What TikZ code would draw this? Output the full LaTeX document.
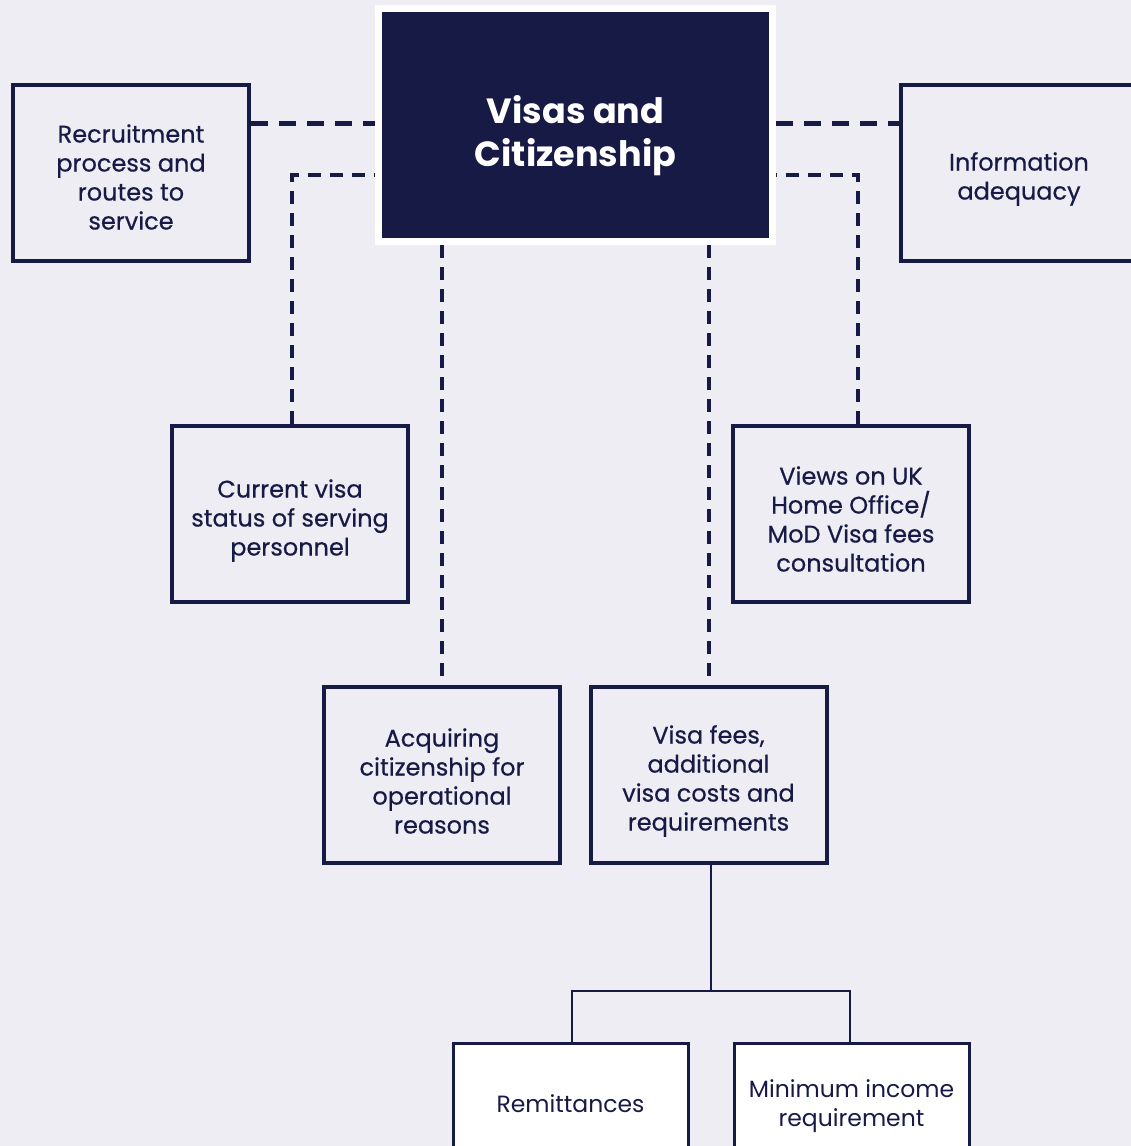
\documentclass[tikz,border=0pt]{standalone}
\usepackage{fontspec}
\setmainfont{Poppins}
\newfontfamily\medfont{Poppins}[FakeBold=0.5]
\definecolor{navy}{HTML}{181A46}
\definecolor{bg}{HTML}{EEEDF4}
\begin{document}
\begin{tikzpicture}[x=1pt,y=-1pt,
  box/.style={draw=navy, line width=4pt, minimum width=236pt, minimum height=176pt, inner sep=0pt},
  leaf/.style={box, fill=white, line width=3pt, minimum width=235pt, minimum height=122pt},
  mainbox/.style={draw=white, fill=navy, line width=7pt, minimum width=394pt, minimum height=233pt, inner sep=0pt},
  txt/.style={inner sep=0pt, align=center, text=navy, font=\medfont\fontsize{24}{29}\selectfont},
  leaftxt/.style={inner sep=0pt, align=center, text=navy, font=\fontsize{23.5}{29}\selectfont},
  maintxt/.style={inner sep=0pt, align=center, text=white, font=\fontsize{35}{43}\selectfont\bfseries},
  longdash/.style={draw=navy, line width=5pt, dash pattern=on 17pt off 11pt},
  shortdash/.style={draw=navy, line width=4.5pt, dash pattern=on 13pt off 9pt},
  solidline/.style={draw=navy, line width=2.5pt}]
\fill[bg] (0,0) rectangle (1131,1146);
\useasboundingbox (0,0) rectangle (1131,1146);

\node[mainbox] (central) at (575.5,125) {};
\node[maintxt] (centralt) at ([yshift=-11pt]central.center) {Visas and\\Citizenship};
\node[box] (rec) at (131,173) {};
\node[txt] (rect) at ([yshift=-4pt]rec.center) {Recruitment\\process and\\routes to\\service};
\node[box] (info) at (1019,173) {};
\node[txt] (infot) at ([yshift=-6pt]info.center) {Information\\adequacy};
\node[box] (cur) at (290,513.5) {};
\node[txt] (curt) at ([yshift=-7pt]cur.center) {Current visa\\status of serving\\personnel};
\node[box] (views) at (851,513.5) {};
\node[txt] (viewst) at ([yshift=-5.5pt]views.center) {Views on UK\\Home Office/\\MoD Visa fees\\consultation};
\node[box] (acq) at (442,775) {};
\node[txt] (acqt) at ([yshift=-6pt]acq.center) {Acquiring\\citizenship for\\operational\\reasons};
\node[box] (fees) at (708.5,775) {};
\node[txt] (feest) at ([yshift=-6pt]fees.center) {Visa fees,\\additional\\visa costs and\\requirements};
\node[leaf] (rem) at (570.5,1104) {};
\node[leaftxt] (remt) at (rem.center) {Remittances};
\node[leaf] (min) at (851.5,1104) {};
\node[leaftxt] (mint) at ([yshift=-2pt]min.center) {Minimum income\\requirement};

\coordinate (Y1) at (0,123);
\coordinate (CL) at (292,175);
\coordinate (CR) at (858,175);
\coordinate (VA) at (442,0);
\coordinate (VF) at (709,0);
\coordinate (J) at (711,991);
\coordinate (RL) at (572,991);
\coordinate (RR) at (850,991);

\draw[longdash] (rec.east |- Y1) -- (central.west |- Y1);
\draw[longdash] (central.east |- Y1) -- (info.west |- Y1);
\draw[shortdash] (CL |- cur.north) -- (CL) -- (central.west |- CL);
\draw[shortdash] (CR |- views.north) -- (CR) -- (central.east |- CR);
\draw[shortdash] (VA |- central.south) -- (VA |- acq.north);
\draw[shortdash] (VF |- central.south) -- (VF |- fees.north);
\draw[solidline] (J |- fees.south) -- (J);
\draw[solidline] (RL |- rem.north) -- (RL) -- (RR) -- (RR |- min.north);
\end{tikzpicture}
\end{document}
